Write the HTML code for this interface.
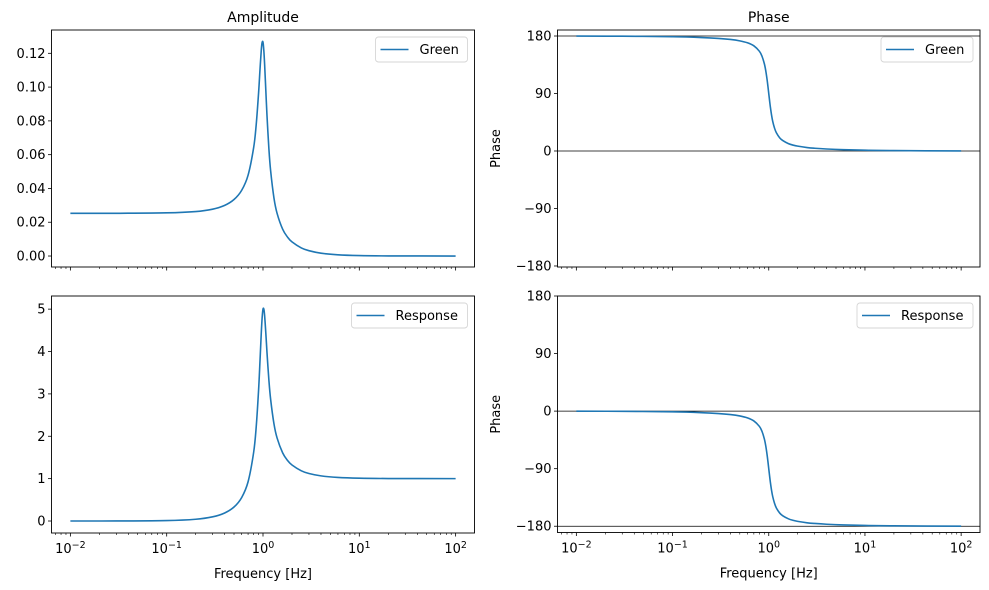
<!DOCTYPE html>
<html><head><meta charset="utf-8">
<style>
html,body{margin:0;padding:0;background:#fff;}
svg{display:block;font-family:"DejaVu Sans","Liberation Sans",sans-serif;}
</style></head>
<body>
<svg id="fig" width="989" height="590" viewBox="0 0 989 590" xmlns="http://www.w3.org/2000/svg"></svg>
<script>
// Data
const freqs = [0.01,0.03,0.1,0.2,0.3,0.4,0.5,0.6,0.7,0.8,0.85,0.9,0.93,0.96,0.98,1.0,1.02,1.04,1.07,1.1,1.15,1.2,1.3,1.4,1.6,1.8,2,2.5,3,4,6,10,20,100];
const greenAmp = [.0253,.0253,.02556,.02633,.02774,.02998,.03344,.03885,.04784,.06421,.07775,.09667,.1101,.1220,.1265,.1265,.1216,.1132,.0979,.0832,.0639,.0505,.0343,.0253,.01589,.01115,.00836,.0048,.00315,.00168,.00072,.000256,.0000634,0];
const respAmp = [.0001,.0009,.0101,.0416,.0987,.1896,.3304,.5529,.9266,1.624,2.220,3.095,3.762,4.444,4.802,5.0,5.002,4.841,4.430,3.978,3.339,2.873,2.292,1.96,1.608,1.428,1.322,1.185,1.121,1.065,1.028,1.01,1.0025,1.0];
const respPhase = [-0.11,-0.34,-1.16,-2.39,-3.77,-5.44,-7.59,-10.62,-15.35,-23.96,-31.5,-43.45,-54.0,-67.8,-78.6,-90,-101.2,-111.4,-124.1,-133.7,-144.5,-151.4,-159.4,-163.7,-168.4,-170.9,-172.4,-174.6,-175.7,-176.9,-178.0,-178.8,-179.4,-179.9];
const greenPhase = [179.89,179.66,178.84,177.61,176.23,174.56,172.41,169.38,164.65,156.04,148.5,136.55,126.0,112.2,101.4,90,78.8,68.6,55.9,46.3,35.5,28.6,20.6,16.3,11.6,9.1,7.6,5.4,4.3,3.1,2.0,1.2,0.6,0.1];
const ampTicksGreen = [0,0.02,0.04,0.06,0.08,0.10,0.12];
const ampTicksGreenLabels = ["0.00","0.02","0.04","0.06","0.08","0.10","0.12"];
const ampTicksResp = [0,1,2,3,4,5];
const phaseTicks = [-180,-90,0,90,180];
const phaseTickLabels = ["\u2212180","\u221290","0","90","180"];
const decades = [-2,-1,0,1,2];

const NS="http://www.w3.org/2000/svg";
const fig=document.getElementById('fig');
function el(tag,attrs,parent){const e=document.createElementNS(NS,tag);for(const k in attrs)e.setAttribute(k,attrs[k]);(parent||fig).appendChild(e);return e;}
const BLUE="#1f77b4";

function makeAxes(cfg){
  const g=el('g',{});
  
  
  const L=cfg.x0,R=cfg.x1,T=cfg.y0,B=cfg.y1;
  const lx0=-2.196,lx1=2.196;
  const xs=f=>L+(Math.log10(f)-lx0)/(lx1-lx0)*(R-L);
  const ys=v=>B-(v-cfg.ymin)/(cfg.ymax-cfg.ymin)*(B-T);
  (cfg.hlines||[]).forEach(v=>{
    const l=el('line',{x1:L,x2:R,y1:ys(v),y2:ys(v),stroke:'#000','stroke-width':0.8},g);
    
    
  });
  const pts=cfg.xv.map((f,i)=>[xs(f),ys(cfg.yv[i])]);
  let d='M'+pts[0][0]+','+pts[0][1];
  for(let i=0;i<pts.length-1;i++){
    const p0=pts[Math.max(0,i-1)],p1=pts[i],p2=pts[i+1],p3=pts[Math.min(pts.length-1,i+2)];
    const c1=[p1[0]+(p2[0]-p0[0])/6,p1[1]+(p2[1]-p0[1])/6];
    const c2=[p2[0]-(p3[0]-p1[0])/6,p2[1]-(p3[1]-p1[1])/6];
    d+=' C'+c1[0]+','+c1[1]+' '+c2[0]+','+c2[1]+' '+p2[0]+','+p2[1];
  }
  const cp=el('clipPath',{id:'clip-'+cfg.name},g);
  el('rect',{x:L,y:T,width:R-L,height:B-T},cp);
  const line=el('path',{d:d,fill:'none',stroke:BLUE,'stroke-width':1.6,'clip-path':'url(#clip-'+cfg.name+')'},g);
  
  
  const fr=el('rect',{x:L,y:T,width:R-L,height:B-T,fill:'none',stroke:'#000','stroke-width':0.9},g);
  
  
  cfg.yticks.forEach((v,i)=>{
    const y=ys(v);
    el('line',{x1:L-3.5,x2:L,y1:y,y2:y,stroke:'#000','stroke-width':0.8},g);
    const t=el('text',{x:L-6,y:y+4.5,'text-anchor':'end','font-size':13,fill:'#000'},g);
    t.textContent=cfg.ylabels[i];
    
    
  });
  for(let dd=-3;dd<=2;dd++){
    for(let m=1;m<10;m++){
      const lv=dd+Math.log10(m);
      if(lv<lx0||lv>lx1)continue;
      const x=L+(lv-lx0)/(lx1-lx0)*(R-L);
      el('line',{x1:x,x2:x,y1:B,y2:B+(m===1?3.5:2),stroke:'#000','stroke-width':m===1?0.8:0.6},g);
    }
  }
  if(cfg.xlabels){
    decades.forEach(dk=>{
      const x=xs(Math.pow(10,dk));
      const t=el('text',{x:x,y:B+20,'text-anchor':'middle','font-size':13,fill:'#000'},g);
      
      
      const a=el('tspan',{},t);a.textContent='10';
      const b=el('tspan',{dy:-5,'font-size':9.5},t);b.textContent=dk<0?'\u2212'+(-dk):String(dk);
    });
    const xl=el('text',{x:(L+R)/2,y:B+45,'text-anchor':'middle','font-size':13,fill:'#000'},g);
    xl.textContent='Frequency [Hz]';
    
    
  }
  if(cfg.title){
    const t=el('text',{x:(L+R)/2,y:T-8,'text-anchor':'middle','font-size':14,fill:'#000'},g);
    t.textContent=cfg.title;
    
    
  }
  if(cfg.ytitle){
    const cy=(T+B)/2;
    const t=el('text',{x:500,y:cy,'text-anchor':'middle','font-size':13,fill:'#000',transform:'rotate(-90 500 '+cy+')'},g);
    t.textContent=cfg.ytitle;
    
    
  }
  const lg=el('g',{},g);
  
  
  const lw=cfg.series==='response'?116:92;
  const lx=R-7-lw, ly=T+7;
  el('rect',{x:lx,y:ly,width:lw,height:25,rx:3,fill:'#fff',stroke:'#d6d6d6','stroke-width':0.9},lg);
  el('line',{x1:lx+5,x2:lx+33,y1:ly+12.5,y2:ly+12.5,stroke:BLUE,'stroke-width':1.6},lg);
  const lt=el('text',{x:lx+44,y:ly+17,'font-size':13,fill:'#000'},lg);
  lt.textContent=cfg.legend;
  
  
}

makeAxes({name:'green-amplitude-axes',series:'green',x0:51.5,x1:474.5,y0:30,y1:267,ymin:-0.0065,ymax:0.1338,
  xv:freqs,yv:greenAmp,yticks:ampTicksGreen,ylabels:ampTicksGreenLabels,title:'Amplitude',legend:'Green'});
makeAxes({name:'green-phase-axes',series:'green',x0:557.5,x1:980,y0:30,y1:267,ymin:-181.6,ymax:189.4,
  xv:freqs,yv:greenPhase,yticks:phaseTicks,ylabels:phaseTickLabels,title:'Phase',ytitle:'Phase',legend:'Green',hlines:[0,180]});
makeAxes({name:'response-amplitude-axes',series:'response',x0:51.5,x1:474.5,y0:296,y1:533,ymin:-0.283,ymax:5.31,
  xv:freqs,yv:respAmp,yticks:ampTicksResp,ylabels:ampTicksResp.map(String),xlabels:true,legend:'Response'});
makeAxes({name:'response-phase-axes',series:'response',x0:557.5,x1:980,y0:296,y1:532.5,ymin:-189.8,ymax:180,
  xv:freqs,yv:respPhase,yticks:phaseTicks,ylabels:phaseTickLabels,xlabels:true,ytitle:'Phase',legend:'Response',hlines:[0,-180]});
</script>
</body></html>
